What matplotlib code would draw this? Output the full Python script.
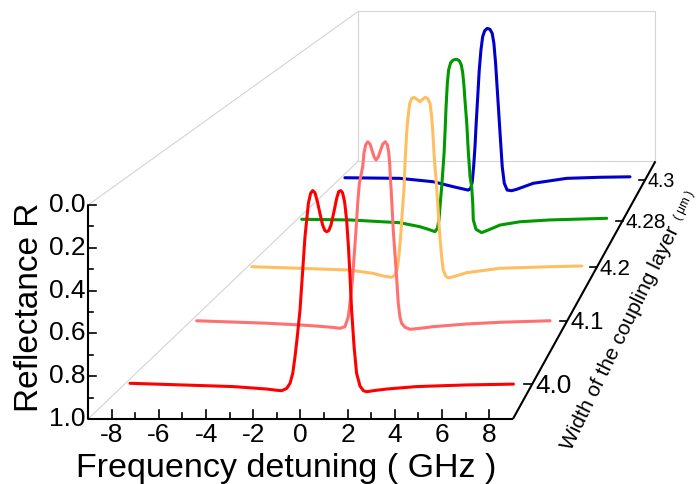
import matplotlib
matplotlib.use("Agg")
import matplotlib.pyplot as plt
import numpy as np

plt.rcParams["font.family"] = ["Liberation Sans", "DejaVu Sans"]

# layer widths (um), front to back
widths = ["4.0", "4.1", "4.2", "4.28", "4.3"]
colors = ["#ff0000", "#ff7070", "#ffbf60", "#009900", "#0000cc"]

# reflectance spectra, frequency detuning in GHz
red_f = [-8.78, -4.22, -2.74, -2.30, -2.08, -1.86, -1.71, -1.59, -1.49, -1.39, -1.27, -1.15, -1.05, -0.90,
         -0.80, -0.71, -0.61, -0.50, -0.39, -0.27, -0.17, -0.09, 0.00, 0.10, 0.23, 0.35, 0.44, 0.53,
         0.61, 0.70, 0.79, 0.87, 0.94, 1.01, 1.12, 1.23, 1.38, 1.53, 1.68, 1.97, 2.56, 3.88, 6.09, 8.16]
red_r = [0.998, 1.014, 1.026, 1.032, 1.034, 1.023, 0.998, 0.949, 0.868, 0.771, 0.641, 0.446, 0.284, 0.121,
         0.072, 0.059, 0.069, 0.113, 0.170, 0.227, 0.254, 0.259, 0.254, 0.227, 0.162, 0.097, 0.064, 0.059,
         0.069, 0.113, 0.202, 0.332, 0.478, 0.641, 0.820, 0.949, 1.011, 1.034, 1.039, 1.034, 1.026, 1.014,
         1.006, 1.002]

pink_f = [-8.71, -5.36, -3.77, -2.97, -2.19, -1.86, -1.62, -1.46, -1.34, -1.25, -1.17, -1.09, -1.01, -0.93,
          -0.77, -0.71, -0.63, -0.53, -0.42, -0.33, -0.23, -0.13, -0.02, 0.09, 0.19, 0.31, 0.41, 0.47,
          0.52, 0.55, 0.60, 0.69, 0.77, 0.86, 0.93, 1.01, 1.09, 1.25, 1.49, 1.97, 2.61, 4.20, 5.80, 8.19]
pink_r = [0.998, 1.011, 1.020, 1.026, 1.033, 1.038, 1.029, 0.977, 0.871, 0.766, 0.642, 0.519, 0.378, 0.273,
          0.185, 0.115, 0.071, 0.054, 0.066, 0.097, 0.133, 0.150, 0.133, 0.097, 0.066, 0.054, 0.071, 0.106,
          0.168, 0.238, 0.326, 0.519, 0.642, 0.783, 0.906, 0.977, 1.011, 1.032, 1.043, 1.038, 1.029, 1.015,
          1.006, 0.998]

orange_f = [-8.75, -6.27, -3.70, -2.50, -1.98, -1.55, -1.38, -1.26, -1.18, -1.09, -1.01, -0.92, -0.85,
            -0.78, -0.71, -0.62, -0.52, -0.40, -0.26, -0.09, 0.04, 0.18, 0.30, 0.42, 0.51, 0.57, 0.64,
            0.76, 0.85, 0.93, 1.02, 1.10, 1.23, 1.36, 1.62, 2.31, 4.02, 6.59, 8.23]
orange_r = [0.996, 1.005, 1.015, 1.034, 1.049, 1.056, 1.043, 1.005, 0.939, 0.826, 0.693, 0.561, 0.372,
            0.239, 0.145, 0.069, 0.041, 0.035, 0.046, 0.060, 0.046, 0.035, 0.041, 0.069, 0.145, 0.239, 0.372,
            0.542, 0.693, 0.826, 0.939, 1.015, 1.049, 1.059, 1.053, 1.030, 1.005, 0.996, 0.992]

green_f = [-8.67, -6.01, -3.26, -2.16, -1.70, -1.33, -1.20, -1.11, -1.04, -0.96, -0.83, -0.78, -0.72,
           -0.65, -0.58, -0.47, -0.32, -0.14, 0.01, 0.12, 0.20, 0.27, 0.32, 0.42, 0.50, 0.60, 0.69, 0.75,
           0.78, 0.93, 1.24, 1.61, 2.25, 3.35, 5.00, 8.13]
green_r = [0.991, 0.995, 1.012, 1.036, 1.052, 1.066, 1.046, 0.995, 0.894, 0.793, 0.590, 0.469, 0.307,
           0.165, 0.084, 0.040, 0.023, 0.019, 0.028, 0.054, 0.104, 0.186, 0.266, 0.408, 0.570, 0.732, 0.793,
           0.894, 0.995, 1.052, 1.072, 1.056, 1.026, 1.006, 0.995, 0.985]

blue_f = [-8.63, -5.40, -3.44, -2.27, -1.68, -1.39, -1.24, -1.15, -1.07, -0.99, -0.92, -0.83, -0.74,
          -0.64, -0.54, -0.42, -0.27, -0.11, 0.02, 0.12, 0.22, 0.32, 0.42, 0.52, 0.61, 0.73, 0.90, 1.16,
          1.46, 2.43, 4.39, 6.35, 8.11]
blue_r = [0.986, 0.990, 1.012, 1.044, 1.059, 1.066, 1.055, 1.012, 0.915, 0.785, 0.634, 0.462, 0.289,
          0.159, 0.073, 0.034, 0.019, 0.025, 0.051, 0.116, 0.245, 0.418, 0.591, 0.763, 0.915, 1.022, 1.066,
          1.070, 1.061, 1.022, 0.990, 0.983, 0.980]

spectra = [(red_f, red_r), (pink_f, pink_r), (orange_f, orange_r), (green_f, green_r), (blue_f, blue_r)]

freq_ticks = list(range(-8, 9, 2))
refl_ticks = [0.0, 0.2, 0.4, 0.6, 0.8, 1.0]

F_MIN, F_MAX = -9.0, 9.0
R_TOP, R_BOT = 0.0, 1.0

# one point perspective: planes further back shrink toward the vanishing point
VP = (29.13, -3.014)
BACK_SCALE = 0.70


def scale_at(d):
    k = 1.0 / BACK_SCALE - 1.0
    return 1.0 / (1.0 + k * d)


def proj(f, r, d):
    s = scale_at(d)
    f = np.asarray(f, dtype=float)
    r = np.asarray(r, dtype=float)
    return VP[0] + s * (f - VP[0]), VP[1] + s * (r - VP[1])


def depth_of(i):
    return (i + 0.5) / len(widths)


fig = plt.figure(figsize=(6.99, 4.84), dpi=100)
ax = fig.add_axes([0, 0, 1, 1])
ax.set_xlim(-12.733, 16.886)
ax.set_ylim(1.3037, -0.9579)
ax.axis("off")

grid_kw = dict(color="#d4d4d4", lw=0.8, zorder=1)
axis_kw = dict(color="black", lw=1.5, zorder=6, solid_capstyle="butt")
tick_kw = dict(color="black", lw=1.2, zorder=6)

# back wall and the two grey edges on the left
bx, by = proj([F_MIN, F_MAX, F_MAX, F_MIN, F_MIN], [R_BOT, R_BOT, R_TOP, R_TOP, R_BOT], 1.0)
ax.plot(bx, by, **grid_kw)
for r in (R_TOP, R_BOT):
    fx, fy = proj(F_MIN, r, 1.0)
    ax.plot([F_MIN, fx], [r, fy], **grid_kw)

# spectra, back to front
for i in reversed(range(len(widths))):
    f, r = spectra[i]
    px, py = proj(f, r, depth_of(i))
    ax.plot(px, py, color=colors[i], lw=2.2, zorder=2 + (len(widths) - i),
            solid_joinstyle="round", solid_capstyle="round")

# front frequency axis
ax.plot([F_MIN, F_MAX], [R_BOT, R_BOT], **axis_kw)
for f in range(-8, 9):
    tl = 0.042 if f % 2 == 0 else 0.026
    ax.plot([f, f], [R_BOT, R_BOT - tl], **tick_kw)
for f in freq_ticks:
    ax.text(f, 1.02, str(f), ha="center", va="top", fontsize=19)
ax.text(-0.61, 1.27, "Frequency detuning ( GHz )", ha="center", va="baseline", fontsize=24.5)

# front reflectance axis
ax.plot([F_MIN, F_MIN], [R_TOP, R_BOT], **axis_kw)
for k in range(11):
    r = k / 10
    tl = 0.35 if k % 2 == 0 else 0.22
    ax.plot([F_MIN, F_MIN + tl], [r, r], **tick_kw)
for r in refl_ticks:
    ax.text(F_MIN - 0.12, r, f"{r:.1f}", ha="right", va="center", fontsize=19)
ax.text(-11.48, 0.477, "Reflectance R", rotation=90, ha="center", va="center", fontsize=24)

# depth axis (coupling layer width)
ax0, ay0 = proj(F_MAX, R_BOT, 0.0)
ax1, ay1 = proj(F_MAX, R_BOT, 1.0)
ax.plot([ax0, ax1], [ay0, ay1], **axis_kw)
for i, w in enumerate(widths):
    d = depth_of(i)
    tx, ty = proj([F_MAX, F_MAX - 0.35], [R_BOT, R_BOT], d)
    ax.plot(tx, ty, **tick_kw)
    lx, ly = proj(F_MAX + 0.15, R_BOT + 0.01, d)
    ax.text(lx, ly, w, ha="left", va="center", fontsize=19.6 * scale_at(d))

ax.text(13.54, 0.621, "Width of the coupling layer", rotation=64, ha="center", va="center",
        rotation_mode="anchor", fontsize=15)
ax.text(16.25, 0.0, "( μm )", rotation=64, ha="center", va="center",
        rotation_mode="anchor", fontsize=8.5)

fig.savefig("out.png", dpi=100)
plt.close(fig)
